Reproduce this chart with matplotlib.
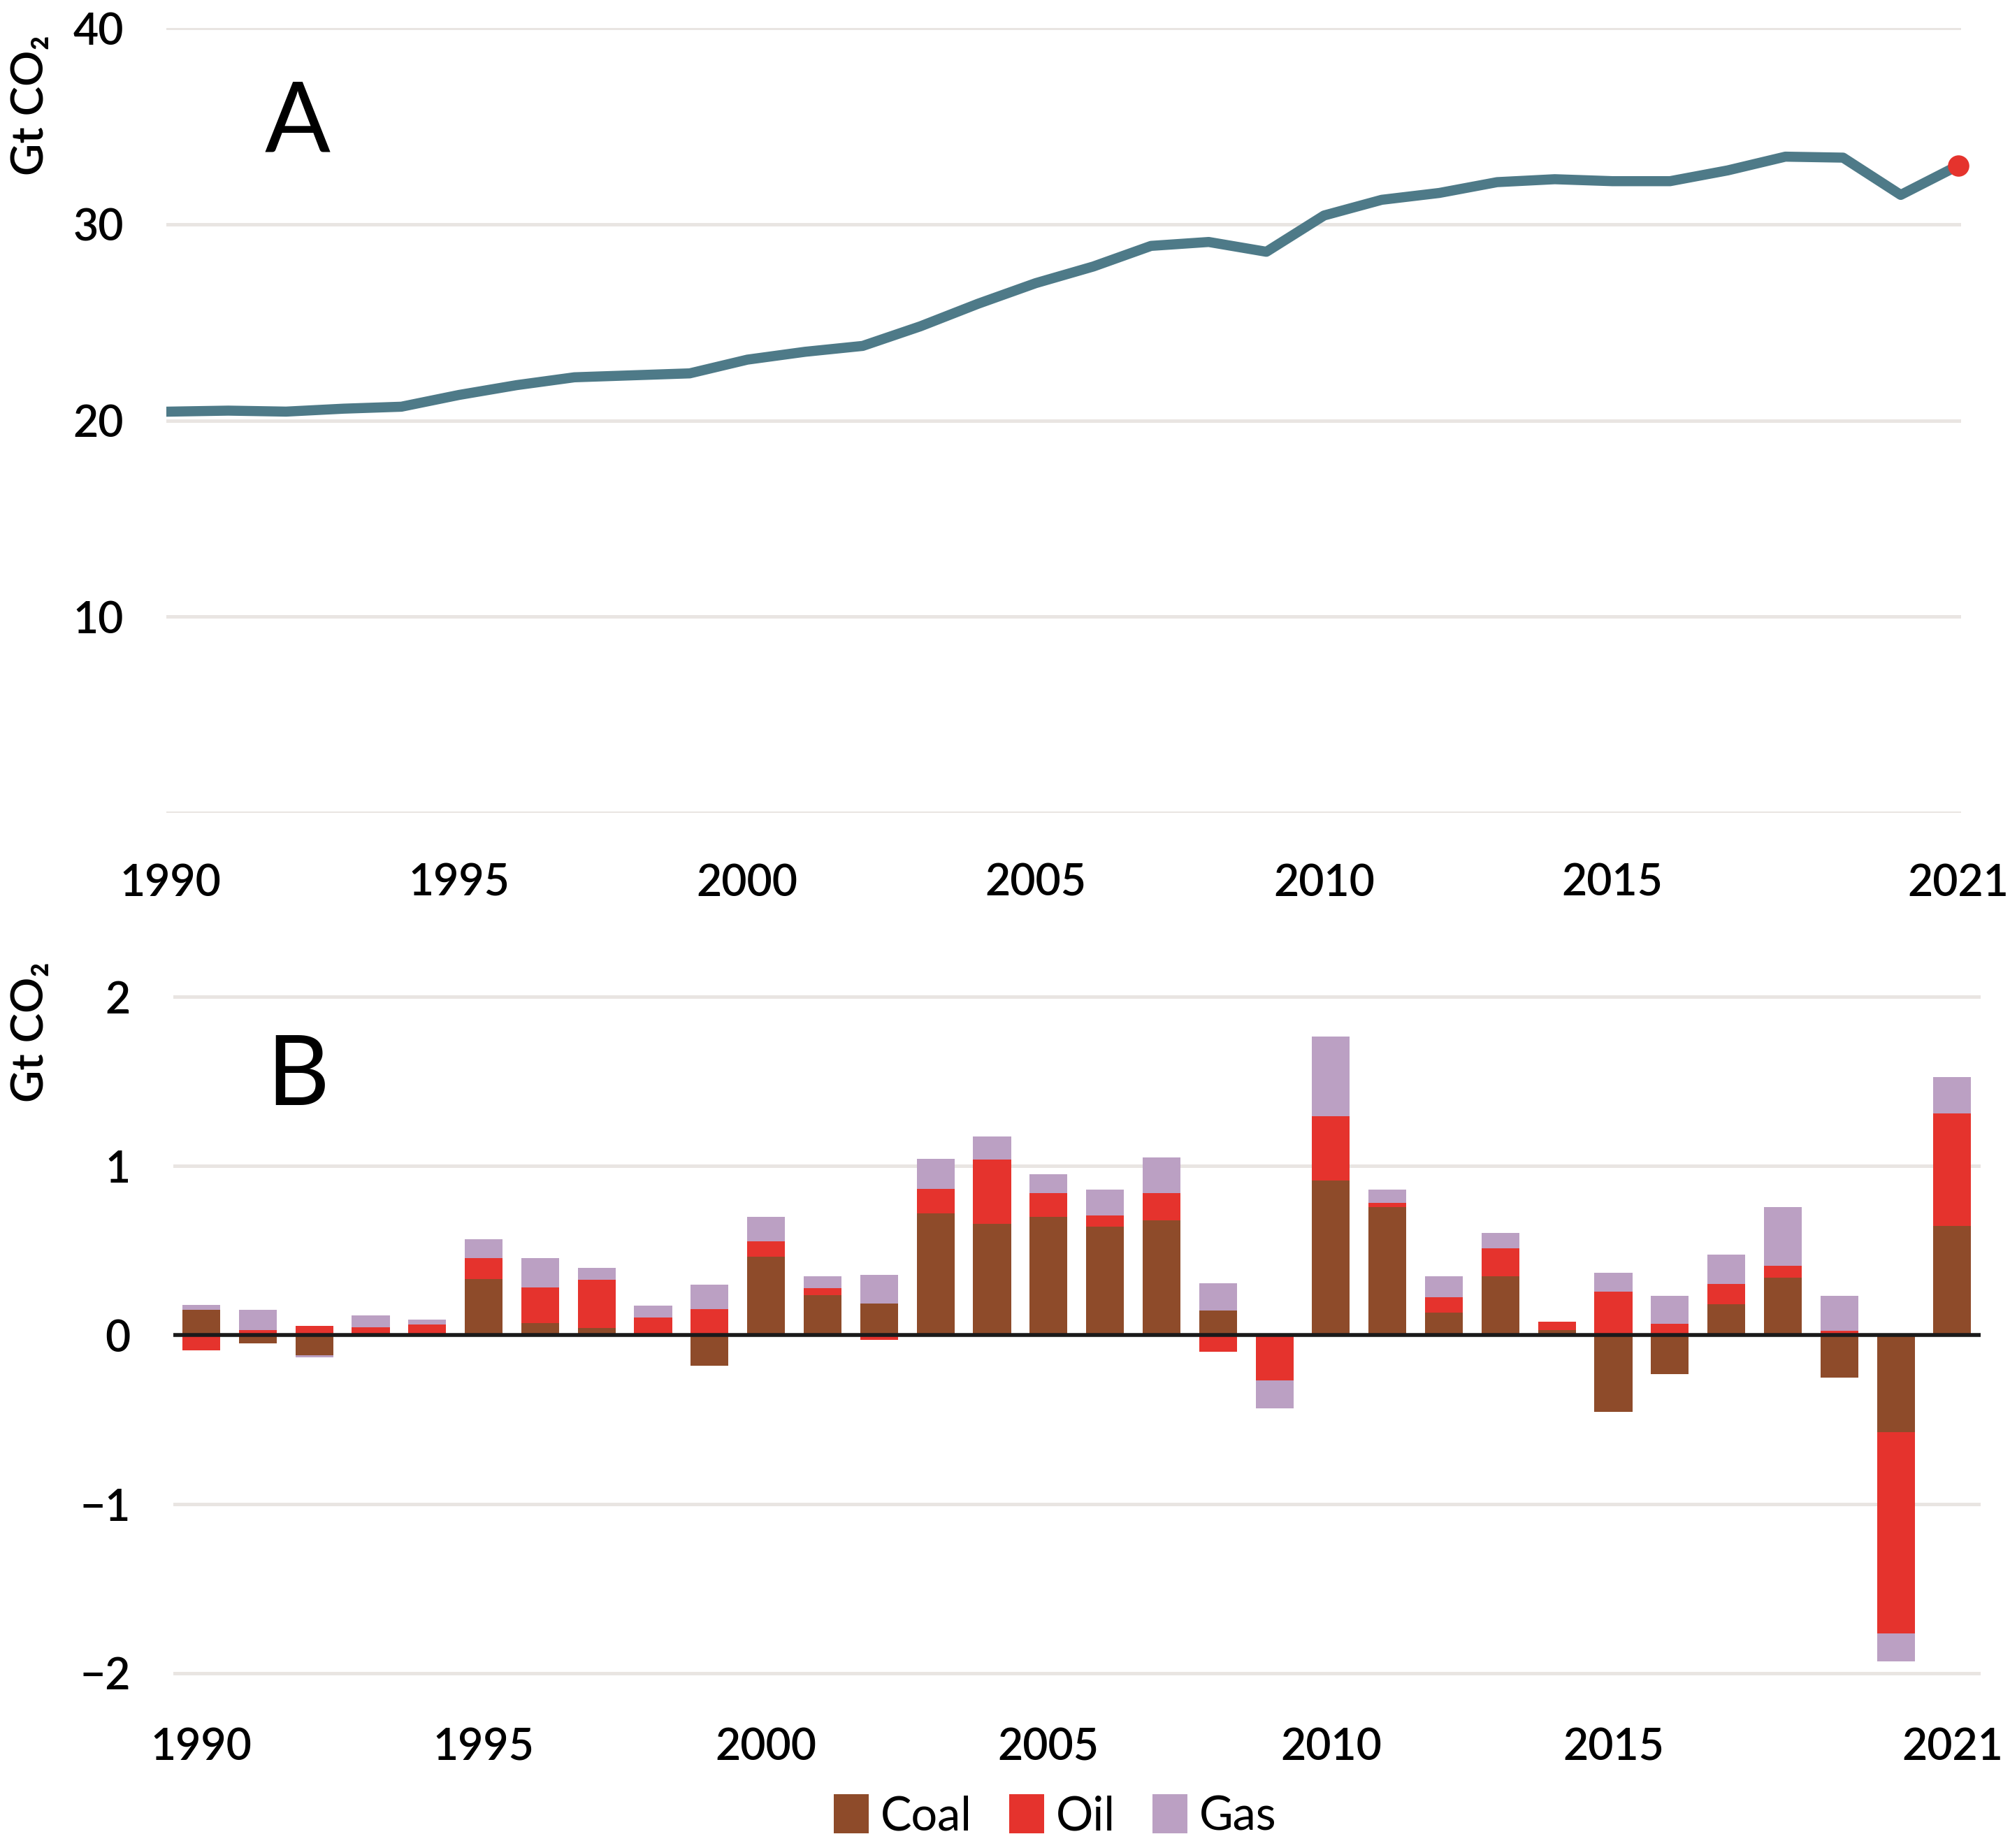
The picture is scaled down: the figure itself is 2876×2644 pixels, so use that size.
import numpy as np
import matplotlib
matplotlib.use('Agg')
import matplotlib.pyplot as plt

plt.rcParams['font.family'] = ['Lato', 'DejaVu Sans']

# Data
years = list(range(1990, 2022))
total = [20.45, 20.5, 20.45, 20.6, 20.7, 21.3, 21.8, 22.2, 22.3, 22.4,
         23.1, 23.5, 23.8, 24.8, 25.95, 27.0, 27.85, 28.9, 29.1, 28.6,
         30.45, 31.25, 31.6, 32.15, 32.3, 32.2, 32.2, 32.75, 33.45, 33.4,
         31.5, 33.0]

coal = [0.15, -0.05, -0.12, 0.01, 0.0, 0.33, 0.07, 0.04, 0.0, -0.18,
        0.465, 0.234, 0.188, 0.718, 0.658, 0.70, 0.64, 0.68, 0.145, 0.0,
        0.913, 0.755, 0.131, 0.346, 0.03, -0.455, -0.23, 0.183, 0.34, -0.25,
        -0.576, 0.644]
oil = [-0.09, 0.03, 0.054, 0.037, 0.063, 0.125, 0.21, 0.285, 0.105, 0.153,
       0.087, 0.045, -0.03, 0.144, 0.38, 0.14, 0.066, 0.158, -0.1, -0.27,
       0.38, 0.025, 0.094, 0.167, 0.05, 0.257, 0.065, 0.121, 0.068, 0.025,
       -1.19, 0.665]
gas = [0.03, 0.12, -0.01, 0.07, 0.03, 0.11, 0.175, 0.07, 0.07, 0.145,
       0.145, 0.068, 0.166, 0.181, 0.135, 0.11, 0.152, 0.212, 0.163, -0.163,
       0.47, 0.08, 0.121, 0.089, 0.0, 0.11, 0.168, 0.17, 0.349, 0.205,
       -0.164, 0.217]

fuel_names = ['Coal', 'Oil', 'Gas']
fuel_colors = ['#8E4B2A', '#E5332D', '#BBA0C3']
tick_years = [1990, 1995, 2000, 2005, 2010, 2015, 2021]

grid_color = '#E9E5E2'
line_color = '#4E7A88'
tick_font = dict(fontsize=22.5, fontweight='semibold')

fig = plt.figure(figsize=(14.38, 13.22), dpi=200)
W, H = 1568.0, 1441.7

# --- Panel A: total emissions ---
ax1 = fig.add_axes([130 / W, 1 - 634 / H, 1400 / W, (634 - 22) / H])
ax1.plot(years, total, color=line_color, linewidth=5.2, solid_joinstyle='round', zorder=3)
ax1.plot(years[-1], total[-1], 'o', color='#E5332D', markersize=10,
         zorder=4, clip_on=False)
ax1.set_xlim(1989.93, 2021.05)
ax1.set_ylim(0, 40)
ax1.set_yticks([0, 10, 20, 30, 40])
ax1.set_yticklabels(['', '10', '20', '30', '40'], **tick_font)
ax1.set_xticks(tick_years)
ax1.set_xticklabels([str(y) for y in tick_years], **tick_font)
ax1.grid(axis='y', color=grid_color, linewidth=1.8, zorder=0)
ax1.set_axisbelow(True)
for s in ax1.spines.values():
    s.set_visible(False)
ax1.tick_params(length=0, axis='y', pad=22)
ax1.tick_params(length=0, axis='x', pad=26)
ax1.text(0.073, 0.843, 'A', transform=ax1.transAxes, fontsize=50,
         ha='center', va='baseline')

# --- Panel B: annual change by fuel ---
ax2 = fig.add_axes([135 / W, 1 - 1308 / H, 1410 / W, (1308 - 775) / H])
x = np.arange(len(years))
pos_base = np.zeros(len(years))
neg_base = np.zeros(len(years))
handles = []
for vals, name, col in zip([coal, oil, gas], fuel_names, fuel_colors):
    v = np.array(vals)
    bottom = np.where(v >= 0, pos_base, neg_base)
    b = ax2.bar(x, v, bottom=bottom, width=0.67, color=col, linewidth=0,
                label=name, zorder=2)
    handles.append(b)
    pos_base = pos_base + np.where(v >= 0, v, 0)
    neg_base = neg_base + np.where(v < 0, v, 0)

ax2.axhline(0, color='#1A1A1A', linewidth=2.0, zorder=3)
ax2.set_xlim(-0.5, 31.5)
ax2.set_ylim(-2.02, 2.02)
ax2.set_yticks([-2, -1, 0, 1, 2])
ax2.set_yticklabels(['\u22122', '\u22121', '0', '1', '2'], **tick_font)
ax2.set_xticks([y - 1990 for y in tick_years])
ax2.set_xticklabels([str(y) for y in tick_years], **tick_font)
ax2.grid(axis='y', color=grid_color, linewidth=1.8, zorder=0)
ax2.set_axisbelow(True)
for s in ax2.spines.values():
    s.set_visible(False)
ax2.tick_params(length=0, axis='y', pad=22)
ax2.tick_params(length=0, axis='x', pad=26)
ax2.text(0.069, 0.837, 'B', transform=ax2.transAxes, fontsize=50,
         ha='center', va='baseline')

# y labels
fig.text(24 / W, 1 - 82 / H, 'Gt CO\u2082', rotation=90, ha='center',
         va='center', fontsize=23, fontweight='semibold')
fig.text(24 / W, 1 - 805 / H, 'Gt CO\u2082', rotation=90, ha='center',
         va='center', fontsize=23, fontweight='semibold')

# legend
fig.legend(handles=handles, labels=fuel_names, loc='center',
           bbox_to_anchor=(823 / W, 1 - 1417 / H), ncol=3, frameon=False,
           fontsize=24, handlelength=0.75, handleheight=0.9,
           handletextpad=0.25, columnspacing=0.8)

fig.savefig('out.png', dpi=200, facecolor='white')
